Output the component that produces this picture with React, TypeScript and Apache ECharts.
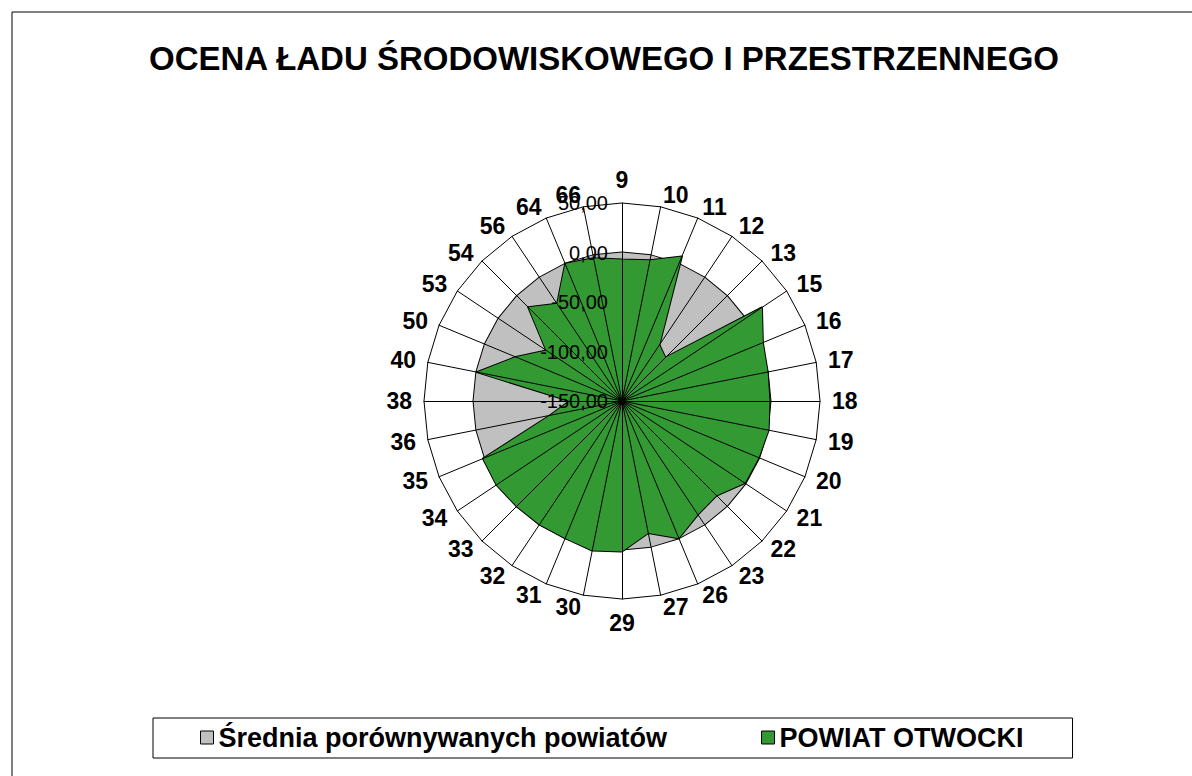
import React, { useEffect, useRef } from "react";
import * as echarts from "echarts";

const TITLE = "OCENA ŁADU ŚRODOWISKOWEGO I PRZESTRZENNEGO";
const categories = ["9", "10", "11", "12", "13", "15", "16", "17", "18", "19", "20", "21", "22", "23", "26", "27", "29", "30", "31", "32", "33", "34", "35", "36", "38", "40", "50", "53", "54", "56", "64", "66"];
const seriesNames = ["Średnia porównywanych powiatów", "POWIAT OTWOCKI"];
const averageValues = [0, 0, 0, 0, 0, 0, 0, 0, 0, 0, 0, 0, 0, 0, 0, 0, 0, 0, 0, 0, 0, 0, 0, 0, 0, 0, 0, 0, 0, 0, 0, 0];
const otwockiValues = [-7, -5, 8, -82, -88, 20, 4, 0, -1, 1, -0.5, -0.7, -15, -12, 0, -14, 2, 4, 0, 0, 0.5, 2.5, 2, -76, -97, -0.5, -34, -58, -16, -32, 0, -3];
const axisMin = -150;
const axisMax = 50;
const splitCount = 4;

const FONT = 'Arial, "Liberation Sans", sans-serif';

// ECharts radar runs counter-clockwise; reorder so categories run clockwise from the top.
const order = [0, ...categories.map((_, i) => i).slice(1).reverse()];
const reorder = <T,>(arr: T[]) => order.map((i) => arr[i]);

export default function App() {
  const ref = useRef<HTMLDivElement>(null);
  useEffect(() => {
    if (!ref.current) return;
    const chart = echarts.init(ref.current, null, { renderer: "svg" });
    const indicator = reorder(categories).map((c, i) => ({
      name: c,
      min: axisMin,
      max: axisMax,
      ...(i === 0 ? { axisLabel: { show: true } } : {}),
    }));
    chart.setOption({
      animation: false,
      backgroundColor: "#fff",
      title: {
        text: TITLE,
        left: 599,
        top: 37,
        textAlign: "center",
        textStyle: { fontFamily: FONT, fontSize: 33, fontWeight: "bold", color: "#000" },
      },
      graphic: [
        {
          type: "rect",
          shape: { x: 12, y: 12, width: 1200, height: 800 },
          style: { fill: "none", stroke: "#000", lineWidth: 1 },
          silent: true,
        },
      ],
      legend: {
        left: 153,
        top: 718,
        padding: [6, 49, 7, 47],
        itemGap: 94,
        itemWidth: 13,
        itemHeight: 13,
        borderColor: "#000",
        borderWidth: 1,
        textStyle: { fontFamily: FONT, fontSize: 27, fontWeight: "bold", color: "#000" },
        data: [
          { name: seriesNames[0], icon: "rect", itemStyle: { color: "#C0C0C0", borderColor: "#000", borderWidth: 1 } },
          { name: seriesNames[1], icon: "rect", itemStyle: { color: "#339933", borderColor: "#000", borderWidth: 1 } },
        ],
      },
      radar: {
        z: 3,
        center: [622, 401],
        radius: 198,
        startAngle: 90,
        shape: "polygon",
        splitNumber: splitCount,
        indicator,
        nameGap: 12,
        axisName: { fontFamily: FONT, fontSize: 23, fontWeight: "bold", color: "#000" },
        axisLine: { show: true, lineStyle: { color: "#000", width: 1 } },
        axisTick: { show: false },
        axisLabel: {
          show: false,
          margin: 14,
          fontFamily: FONT,
          fontSize: 20,
          color: "#000",
          formatter: (v: number) => v.toFixed(2).replace(".", ","),
        },
        splitLine: {
          show: true,
          lineStyle: { color: ["rgba(0,0,0,0)", "rgba(0,0,0,0)", "rgba(0,0,0,0)", "rgba(0,0,0,0)", "#000"], width: 1 },
        },
        splitArea: { show: false },
      },
      series: [
        {
          type: "radar",
          z: 2,
          symbol: "none",
          data: [
            {
              name: seriesNames[0],
              value: reorder(averageValues),
              areaStyle: { color: "#C0C0C0", opacity: 1 },
              lineStyle: { color: "#000", width: 2 },
              itemStyle: { color: "#C0C0C0" },
            },
            {
              name: seriesNames[1],
              value: reorder(otwockiValues),
              areaStyle: { color: "#339933", opacity: 1 },
              lineStyle: { color: "#000", width: 2 },
              itemStyle: { color: "#339933" },
            },
          ],
        },
      ],
    });
    return () => chart.dispose();
  }, []);
  return <div ref={ref} style={{ position: "fixed", left: 0, top: 0, width: 1192, height: 776 }} />;
}
